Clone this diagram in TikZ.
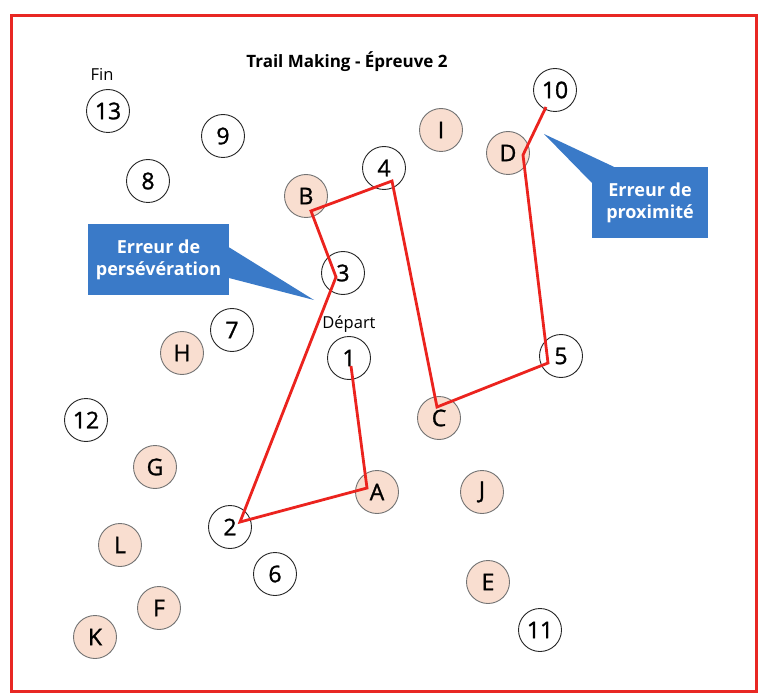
\documentclass[tikz,border=0pt]{standalone}
\usepackage{fontspec}
\setmainfont{Open Sans}
\newfontfamily\circfont[FakeBold=1.2]{Open Sans}
\usetikzlibrary{calc}
\definecolor{frame}{RGB}{232,40,35}
\definecolor{trail}{RGB}{235,35,30}
\definecolor{pinkf}{RGB}{249,222,208}
\definecolor{callout}{RGB}{58,122,200}
\begin{document}
\begin{tikzpicture}[x=1pt,y=-1pt,
  num/.style={circle,draw=black!85,line width=0.9pt,minimum size=43pt,inner sep=0pt,font=\circfont\fontsize{23}{23}\selectfont},
  let/.style={num,fill=pinkf,draw=black!55},
  lab/.style={font=\fontsize{16.5}{16.5}\selectfont},
  cbox/.style={fill=callout,text=white,font=\bfseries\fontsize{18}{22}\selectfont,align=center,inner sep=0pt},
  trailline/.style={trail,line width=2.8pt,line join=miter}]
\useasboundingbox (0,0) rectangle (766,695);
\draw[frame,line width=3pt] (11,16) rectangle (756,691);

\node[font=\bfseries\fontsize{17}{17}\selectfont] (title) at (347,62) {Trail Making - Épreuve 2};

% number circles
\node[num] (n13) at (108,111) {13};
\node[lab] (fin) at (102,74) {Fin};
\node[num] (n9) at (223,136) {9};
\node[num] (n8) at (148,181) {8};
\node[num] (n4) at (384,168) {4};
\node[num] (n10) at (555,90) {10};
\node[num] (n3) at (343,273) {3};
\node[num] (n1) at (349,358) {1};
\node[lab] (depart) at (349,324) {Départ};
\node[num] (n7) at (232,330) {7};
\node[num] (n12) at (86,420) {12};
\node[num] (n5) at (561,356) {5};
\node[num] (n2) at (230,527) {2};
\node[num] (n6) at (275,574) {6};
\node[num] (n11) at (540,630) {11};

% letter circles
\node[let] (B) at (306,196) {B};
\node[let] (I) at (441,130) {I};
\node[let] (D) at (508,153) {D};
\node[let] (H) at (182,353) {H};
\node[let] (G) at (155,467) {G};
\node[let] (C) at (439,418) {C};
\node[let] (A) at (377,492) {A};
\node[let] (J) at (482,492) {J};
\node[let] (L) at (120,545) {L};
\node[let] (E) at (488,582) {E};
\node[let] (F) at (159,608) {F};
\node[let] (K) at (95,637) {K};

% trail
\draw[trailline] ($(n1)+(2,8)$) -- ($(A)+(-10,-4)$) -- ($(n2)+(10,-5)$)
  -- ($(n3)+(-7,4)$) -- ($(B)+(5,15)$) -- ($(n4)+(8,13)$)
  -- ($(C)+(-2,-11)$) -- ($(n5)+(-13,7)$) -- ($(D)+(15,2)$) -- ($(n10)+(-9,17)$);

% callouts
\node[cbox,minimum width=141pt,minimum height=71pt] (perse) at (158.5,259.5) {Erreur de\\persévération};
\coordinate (tipP) at (314,300);
\fill[callout] ($(perse.north east)+(-1,23)$) -- (tipP) -- ($(perse.north east)+(-1,54)$) -- cycle;

\node[cbox,minimum width=116pt,minimum height=71pt] (proxi) at (650,202.5) {Erreur de\\proximité};
\coordinate (tipX) at (544,134);
\fill[callout] ($(proxi.north west)+(0,16)$) -- (tipX) -- ($(proxi.north west)+(22,0)$) -- ($(proxi.north west)+(22,1)$) -- ($(proxi.north west)+(0,1)$) -- cycle;
\end{tikzpicture}
\end{document}
